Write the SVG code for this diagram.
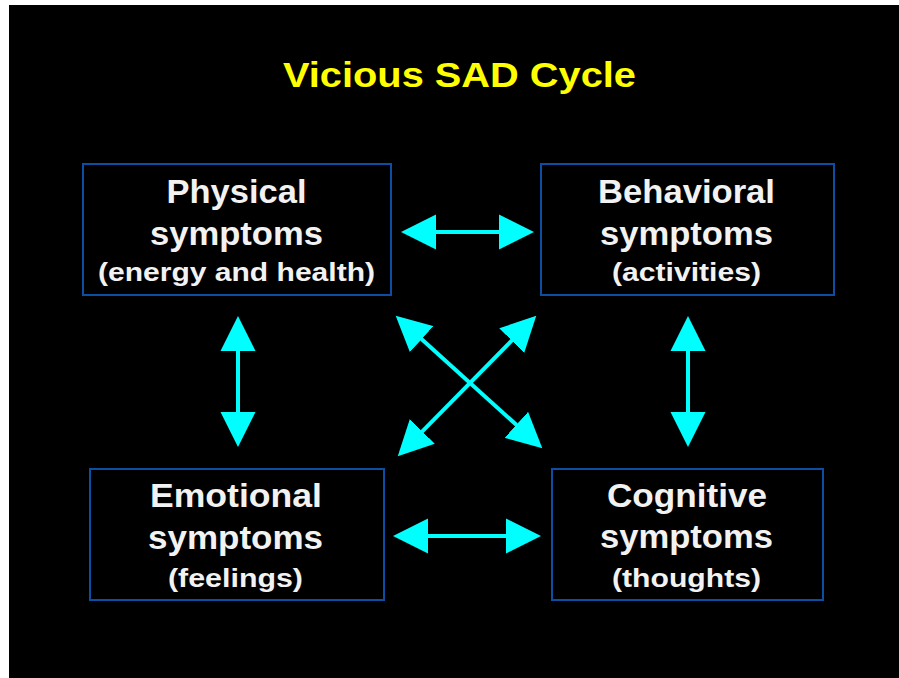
<svg xmlns="http://www.w3.org/2000/svg" width="899" height="678" viewBox="0 0 899 678">
<style>
.box{fill:#000;stroke:#0b4ea2;stroke-width:2}
.t{font-family:"Liberation Sans",Arial,sans-serif;font-weight:bold;fill:#f2f2f2;text-anchor:middle}
.big{font-size:33px}
.small{font-size:26px}
.title{font-family:"Liberation Sans",Arial,sans-serif;font-weight:bold;font-size:35px;fill:#ffff00}
.arr{stroke:#00ffff;stroke-width:4;fill:none;marker-start:url(#head);marker-end:url(#head)}
</style>
<defs>
<marker id="head" markerUnits="userSpaceOnUse" viewBox="0 -18 36 36" markerWidth="36" markerHeight="36" refX="1" refY="0" orient="auto-start-reverse">
<path d="M0,-17.5 L35,0 L0,17.5 z" fill="#00ffff"/>
</marker>
</defs>
<rect x="0" y="0" width="899" height="678" fill="#ffffff"/>
<rect x="9" y="5" width="890" height="673" fill="#000000"/>
<text class="title" x="283" y="87" textLength="353" lengthAdjust="spacingAndGlyphs">Vicious SAD Cycle</text>
<g id="physical">
<rect class="box" x="83" y="164" width="308" height="131"/>
<text class="t big" x="236.5" y="203" textLength="140" lengthAdjust="spacingAndGlyphs">Physical</text>
<text class="t big" x="236.5" y="245" textLength="173" lengthAdjust="spacingAndGlyphs">symptoms</text>
<text class="t small" x="236.5" y="281" textLength="277" lengthAdjust="spacingAndGlyphs">(energy and health)</text>
</g>
<g id="behavioral">
<rect class="box" x="541" y="164" width="293" height="131"/>
<text class="t big" x="686.5" y="203" textLength="177" lengthAdjust="spacingAndGlyphs">Behavioral</text>
<text class="t big" x="686.5" y="245" textLength="173" lengthAdjust="spacingAndGlyphs">symptoms</text>
<text class="t small" x="686.5" y="281" textLength="149" lengthAdjust="spacingAndGlyphs">(activities)</text>
</g>
<g id="emotional">
<rect class="box" x="90" y="469" width="294" height="131"/>
<text class="t big" x="236" y="507" textLength="172" lengthAdjust="spacingAndGlyphs">Emotional</text>
<text class="t big" x="235.5" y="549" textLength="175" lengthAdjust="spacingAndGlyphs">symptoms</text>
<text class="t small" x="235.5" y="587" textLength="135" lengthAdjust="spacingAndGlyphs">(feelings)</text>
</g>
<g id="cognitive">
<rect class="box" x="552" y="469" width="271" height="131"/>
<text class="t big" x="687" y="507" textLength="160" lengthAdjust="spacingAndGlyphs">Cognitive</text>
<text class="t big" x="686.5" y="548" textLength="173" lengthAdjust="spacingAndGlyphs">symptoms</text>
<text class="t small" x="686.5" y="587" textLength="149" lengthAdjust="spacingAndGlyphs">(thoughts)</text>
</g>
<g id="connectors">
<line class="arr" x1="435" y1="232" x2="500" y2="232"/>
<line class="arr" x1="427" y1="536" x2="507" y2="536"/>
<line class="arr" x1="238" y1="350" x2="238" y2="413"/>
<line class="arr" x1="688" y1="350" x2="688" y2="413"/>
<line class="arr" x1="420.9" y1="338.5" x2="517.1" y2="425.5"/>
<line class="arr" x1="512.4" y1="339.9" x2="421.6" y2="432.1"/>
</g>
</svg>
